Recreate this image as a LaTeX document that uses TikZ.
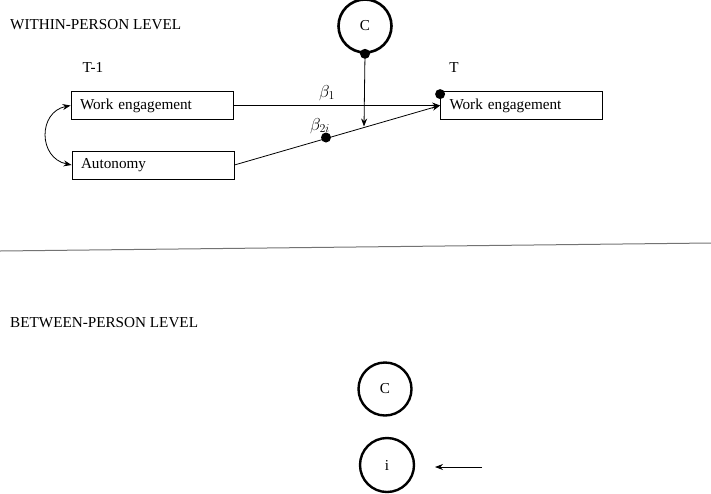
\documentclass[tikz,border=0pt]{standalone}
\usepackage{fontspec}
\setmainfont{Liberation Serif}
\usetikzlibrary{arrows.meta}
\begin{document}
\begin{tikzpicture}[x=1pt,y=-1pt,
  txt/.style={font=\fontsize{15.2}{17}\selectfont, inner sep=0pt},
  varbox/.style={draw, line width=0.8pt, minimum width=162pt, minimum height=28pt, inner sep=0pt, font=\fontsize{15.2}{17}\selectfont, text width=144pt, align=left},
  latent/.style={circle, draw, line width=2.6pt, minimum size=52pt, inner sep=0pt, font=\fontsize{15.2}{17}\selectfont},
  conn/.style={line width=0.8pt, -{Stealth[length=8pt,width=6pt]}},
  dotn/.style={circle, fill, inner sep=0pt, minimum size=10pt},
  blab/.style={inner sep=0pt, font=\fontsize{18}{20}\selectfont}]
\useasboundingbox (0,0) rectangle (711,493);
% headings
\node[txt, anchor=west] (within) at (10,25) {WITHIN-PERSON LEVEL};
\node[txt] (tm1) at (93,67) {T-1};
\node[txt] (t) at (454,68) {T};
\node[txt, anchor=west] (between) at (10,323) {BETWEEN-PERSON LEVEL};
% boxes
\node[varbox] (we1) at (152,105.5) {Work engagement};
\node[varbox] (aut) at (153,165) {Autonomy};
\node[varbox] (we2) at (521.5,105.5) {Work engagement};
% top circle
\node[latent, minimum size=53pt] (c1) at (365,26) {C};
\node[dotn] (cdot) at (c1.south) {};
% correlation
\draw[line width=0.8pt, {Stealth[length=8pt,width=6pt]}-{Stealth[length=8pt,width=6pt]}] (we1.west) .. controls (38,112) and (38,158) .. (aut.west);
% beta1 path
\draw[conn] (we1.east) -- (we2.west);
\node[blab] (b1lab) at (327,93) {$\beta_1$};
% beta2 path
\coordinate (hit) at (364,126.5);
\draw[conn] (aut.east) -- (we2.west);
\node[dotn] (b2dot) at (326,137.5) {};
\node[blab] (b2lab) at (320,126) {$\beta_{2i}$};
\draw[conn] (cdot.center) -- (hit);
% dot on T box
\node[dotn] (tdot) at ([yshift=-3pt]we2.north west) {};
% separator
\coordinate (sepl) at (0,251);
\coordinate (sepr) at (711,243);
\draw[line width=1pt, black!55] (sepl) -- (sepr);
% between
\node[latent, line width=2.4pt, minimum size=53pt] (c2) at (385,389) {C};
\node[latent, line width=2.4pt, minimum size=54pt] (i) at (387,465) {i};
\coordinate (astart) at (482,467);
\coordinate (aend) at (435,467);
\draw[conn] (astart) -- (aend);
\end{tikzpicture}
\end{document}
